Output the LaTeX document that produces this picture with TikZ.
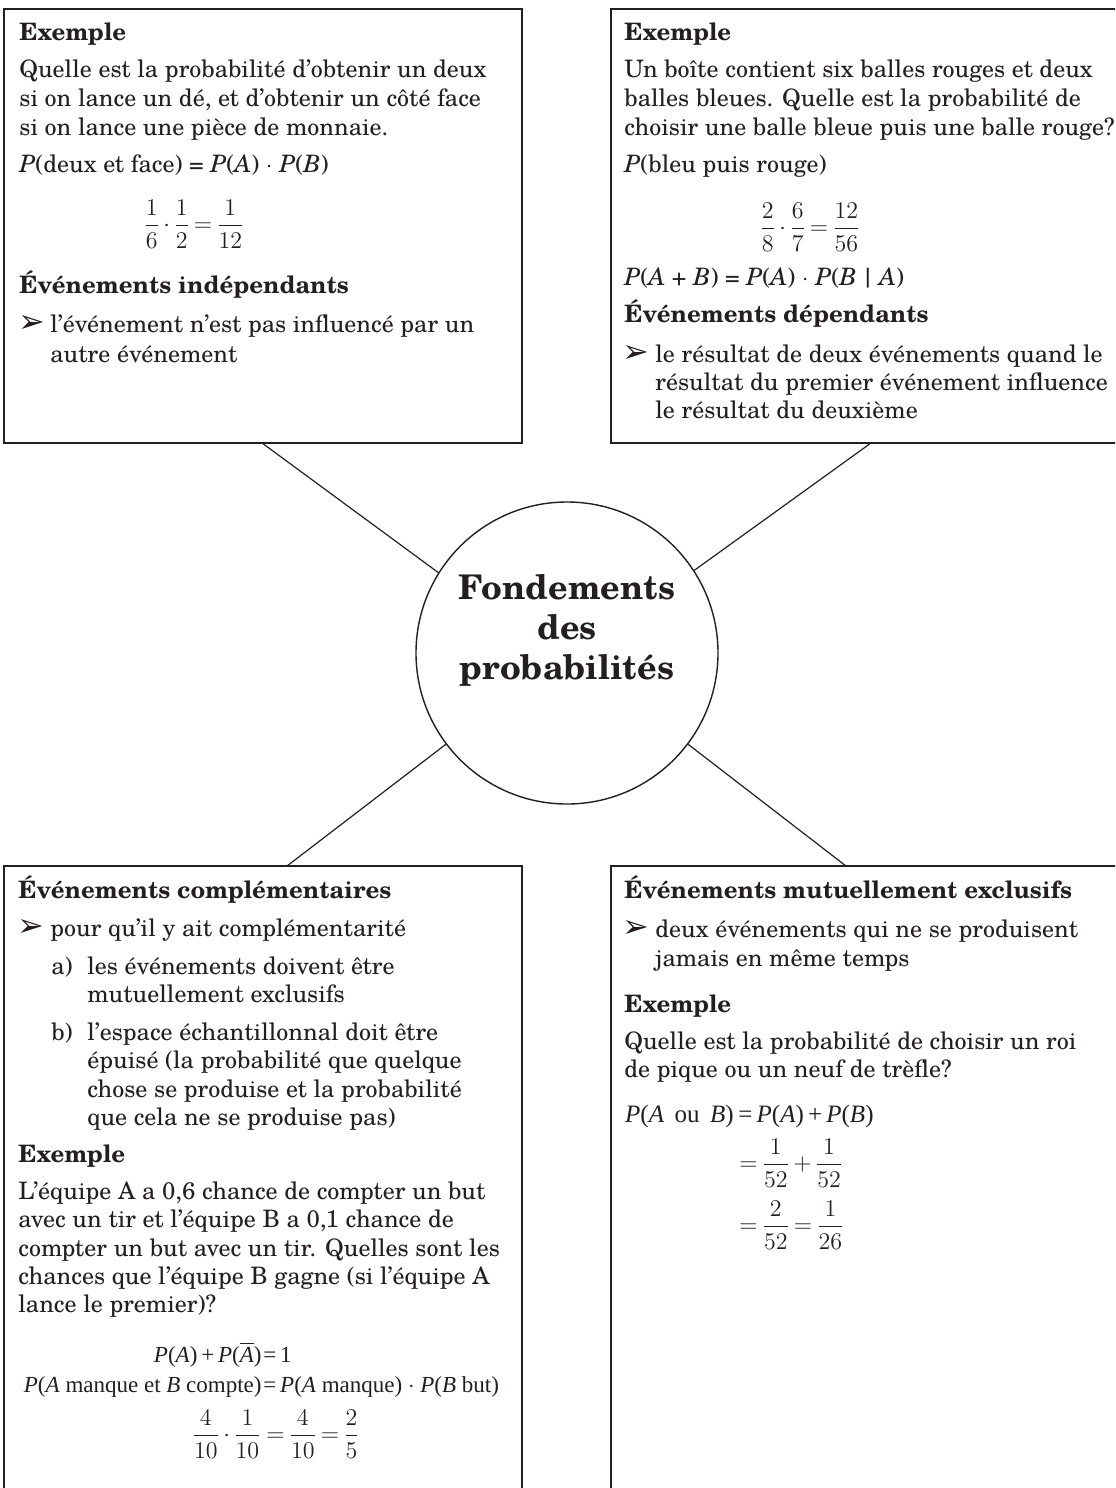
\documentclass[tikz,border=0pt]{standalone}
\usepackage{amsmath}
\usepackage{fontspec}
\setmainfont{TeX Gyre Schola}
\newfontfamily\dejavu{DejaVu Sans}
\newfontfamily\timesf{Liberation Serif}
\definecolor{ink}{HTML}{231F20}
\newcommand{\tightmath}{\thickmuskip=3mu\medmuskip=2.5mu}
\tikzset{
 boxst/.style={draw=ink, line width=0.7pt, rectangle, inner sep=0pt, minimum width=259pt},
 txt/.style={anchor=base west, inner sep=0pt, text=ink, font=\fontsize{12}{14}\selectfont},
 hd/.style={txt, font=\fontsize{12}{14}\selectfont\bfseries},
 eqn/.style={inner sep=0pt, text=ink, font=\fontsize{12}{14}\selectfont},
 eqt/.style={inner sep=0pt, text=ink, font=\fontsize{11.5}{14}\timesf},
 eqtb/.style={inner sep=0pt, text=ink, font=\fontsize{12.5}{14}\timesf},
 conn/.style={draw=ink, line width=0.6pt},
 bul/.style={anchor=base west, inner sep=0pt, text=ink, font=\fontsize{16}{16}\dejavu},
 ctitle/.style={anchor=base, inner sep=0pt, text=ink, font=\fontsize{17}{20}\selectfont\bfseries},
}
\begin{document}
\begin{tikzpicture}[x=0.5pt,y=-0.5pt]
\useasboundingbox (0,0) rectangle (1115,1488);
\clip (0,0) rectangle (1115,1488);
\fill[white] (0,0) rectangle (1115,1488);

% ---- top-left box
\node[boxst, minimum height=217pt] (tl) at (263,226) {};
\node[hd] (tl1) at (19,40) {Exemple};
\node[txt] (tl2) at (19,77) {Quelle est la probabilité d’obtenir un deux};
\node[txt] (tl3) at (19,106) {si on lance un dé, et d’obtenir un côté face};
\node[txt] (tl4) at (19,135) {si on lance une pièce de monnaie.};
\node[txt] (tl5) at (19,172) {\textit{P}(deux et face) = \textit{P}(\textit{A}) $\cdot$ \textit{P}(\textit{B})};
\node[eqn] (tl6) at (194,224) {$\tightmath\dfrac{1}{6}\cdot\dfrac{1}{2}=\dfrac{1}{12}$};
\node[hd] (tl7) at (19,293) {Événements indépendants};
\node[bul] (tl8) at (18,332) {➢};
\node[txt] (tl9) at (50,332) {l’événement n’est pas influencé par un};
\node[txt] (tl10) at (50,362) {autre événement};

% ---- top-right box
\node[boxst, minimum height=217pt] (tr) at (870,226) {};
\node[hd] (tr1) at (624,40) {Exemple};
\node[txt] (tr2) at (624,77) {Un boîte contient six balles rouges et deux};
\node[txt] (tr3) at (624,106) {balles bleues. Quelle est la probabilité de};
\node[txt] (tr4) at (624,135) {choisir une balle bleue puis une balle rouge?};
\node[txt] (tr5) at (624,172) {\textit{P}(bleu puis rouge)};
\node[eqn] (tr6) at (810,227) {$\tightmath\dfrac{2}{8}\cdot\dfrac{6}{7}=\dfrac{12}{56}$};
\node[txt] (tr7) at (624,285) {\textit{P}(\textit{A} + \textit{B}) = \textit{P}(\textit{A}) $\cdot$ \textit{P}(\textit{B}\,|\,\textit{A})};
\node[hd] (tr8) at (624,322) {Événements dépendants};
\node[bul] (tr9) at (622,362) {➢};
\node[txt] (tr10) at (655,362) {le résultat de deux événements quand le};
\node[txt] (tr11) at (655,390) {résultat du premier événement influence};
\node[txt] (tr12) at (655,418) {le résultat du deuxième};

% ---- centre
\node[circle, draw=ink, line width=0.7pt, minimum size=151pt, inner sep=0pt] (c) at (567,653) {};
\node[ctitle] (ct1) at (567,599) {Fondements};
\node[ctitle] (ct2) at (567,639) {des};
\node[ctitle] (ct3) at (567,679) {probabilités};

% ---- bottom-left box
\node[boxst, minimum height=327pt] (bl) at (263,1193) {};
\node[hd] (bl1) at (18,898) {Événements complémentaires};
\node[bul] (bl2) at (17,936) {➢};
\node[txt] (bl3) at (50,936) {pour qu’il y ait complémentarité};
\node[txt] (bl4) at (51,974) {a)};
\node[txt] (bl5) at (87,974) {les événements doivent être};
\node[txt] (bl6) at (87,1002) {mutuellement exclusifs};
\node[txt] (bl7) at (51,1040) {b)};
\node[txt] (bl8) at (87,1040) {l’espace échantillonnal doit être};
\node[txt] (bl9) at (87,1068) {épuisé (la probabilité que quelque};
\node[txt] (bl10) at (87,1097) {chose se produise et la probabilité};
\node[txt] (bl11) at (87,1125) {que cela ne se produise pas)};
\node[hd] (bl12) at (18,1162) {Exemple};
\node[txt] (bl13) at (18,1199) {L’équipe A a 0,6 chance de compter un but};
\node[txt] (bl14) at (18,1227) {avec un tir et l’équipe B a 0,1 chance de};
\node[txt] (bl15) at (18,1256) {compter un but avec un tir. Quelles sont les};
\node[txt] (bl16) at (18,1284) {chances que l’équipe B gagne (si l’équipe A};
\node[txt] (bl17) at (18,1312) {lance le premier)?};
\node[eqt, anchor=base east] (bl18) at (262,1362) {\textit{P}(\textit{A})\,+\,\textit{P}($\overline{\mbox{\textit{A}}}$)};
\node[eqt, anchor=base west] (bl19) at (263,1362) {=\,1};
\node[eqt, anchor=base east] (bl20) at (262,1392) {\textit{P}(\textit{A} manque et \textit{B} compte)};
\node[eqt, anchor=base west] (bl21) at (263,1392) {=\,\textit{P}(\textit{A} manque) $\cdot$ \textit{P}(\textit{B} but)};
\node[eqn, anchor=east] (bl22) at (262,1434) {$\tightmath\dfrac{4}{10}\cdot\dfrac{1}{10}$};
\node[eqn, anchor=west] (bl23) at (262,1434) {$\tightmath{}=\dfrac{4}{10}=\dfrac{2}{5}$};

% ---- bottom-right box
\node[boxst, minimum height=327pt] (br) at (870,1193) {};
\node[hd] (br1) at (624,898) {Événements mutuellement exclusifs};
\node[bul] (br2) at (622,937) {➢};
\node[txt] (br3) at (655,937) {deux événements qui ne se produisent};
\node[txt] (br4) at (655,966) {jamais en même temps};
\node[hd] (br5) at (624,1012) {Exemple};
\node[txt] (br6) at (624,1049) {Quelle est la probabilité de choisir un roi};
\node[txt] (br7) at (624,1077) {de pique ou un neuf de trèfle?};
\node[eqtb, anchor=base east] (br8) at (734,1122) {\textit{P}(\textit{A}\, ou\, \textit{B})};
\node[eqtb, anchor=base west] (br9) at (738,1122) {=\,\textit{P}(\textit{A})\,+\,\textit{P}(\textit{B})};
\node[eqn, anchor=west] (br10) at (735,1163) {$\tightmath{}=\dfrac{1}{52}+\dfrac{1}{52}$};
\node[eqn, anchor=west] (br11) at (735,1225) {$\tightmath{}=\dfrac{2}{52}=\dfrac{1}{26}$};

% ---- connectors
\coordinate (blc) at (287,866);
\coordinate (brc) at (846,866);
\draw[conn] (tl.south) -- (c.148);
\draw[conn] (tr.south) -- (c.33);
\draw[conn] (blc) -- (c.217);
\draw[conn] (brc) -- (c.323);
\end{tikzpicture}
\end{document}
